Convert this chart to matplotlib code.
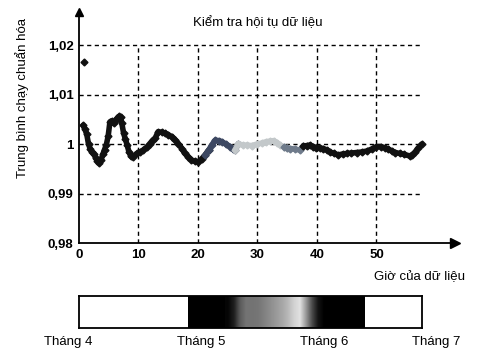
import numpy as np
import matplotlib
matplotlib.use("Agg")
import matplotlib.pyplot as plt

plt.rcParams['font.family'] = ['Liberation Sans', 'DejaVu Sans']

# running mean readings (hour, normalised value)
outlier_hour = 0.9
outlier_value = 1.0166

hours = [0.7, 1.0, 1.3, 1.6, 1.9, 2.2, 2.5, 2.8, 3.1, 3.4, 3.7, 4.0, 4.3, 4.6, 4.9,
         5.2, 5.5, 5.8, 6.1, 6.4, 6.7, 7.0, 7.2, 7.5, 7.8, 8.1, 8.4, 8.7, 9.0,
         9.7, 10.3, 10.8, 11.4, 11.9, 12.4, 12.8, 13.3, 13.9, 14.5, 15.0, 15.6,
         16.2, 16.7, 17.3, 17.8, 18.4, 18.9, 19.5, 20.0, 20.6, 21.2,
         21.8, 22.3, 22.9, 23.5, 24.0, 24.7, 25.4, 25.9, 26.2,
         26.8, 27.5, 28.2, 29.0, 29.9, 30.7, 31.5, 32.1, 32.7, 33.3, 33.8, 34.5,
         35.0, 35.5, 36.3, 37.1, 37.7,
         38.3, 38.8, 39.4, 39.9, 40.5, 41.1, 41.7, 42.2, 42.9, 43.6, 44.3, 45.0,
         45.8, 46.7, 47.5, 48.4, 49.2, 50.0, 50.7, 51.4, 52.0, 52.6, 53.2, 53.9,
         54.7, 55.6, 56.0, 56.5, 57.0, 57.6]
values = [1.0038, 1.0030, 1.0020, 1.0000, 0.9990, 0.9984, 0.9980, 0.9972, 0.9966,
          0.9962, 0.9968, 0.9979, 0.9989, 0.9999, 1.0016,
          1.0045, 1.0047, 1.0042, 1.0046, 1.0052, 1.0056, 1.0055, 1.0042, 1.0022,
          1.0010, 0.9998, 0.9984, 0.9976, 0.9973,
          0.9981, 0.9984, 0.9988, 0.9994, 1.0001, 1.0008, 1.0012, 1.0025, 1.0024,
          1.0022, 1.0019, 1.0015, 1.0008, 1.0001, 0.9991, 0.9981, 0.9974, 0.9968,
          0.9965, 0.9964, 0.9970, 0.9978,
          0.9988, 0.9998, 1.0008, 1.0007, 1.0005, 1.0000, 0.9995, 0.9990, 0.9988,
          1.0001, 0.9998, 0.9998, 0.9997, 1.0000, 1.0002, 1.0005, 1.0006, 1.0007,
          1.0003, 0.9998, 0.9994,
          0.9992, 0.9991, 0.9990, 0.9988, 0.9996,
          0.9997, 0.9998, 0.9995, 0.9993, 0.9992, 0.9991, 0.9988, 0.9984, 0.9981,
          0.9978, 0.9980, 0.9981,
          0.9982, 0.9983, 0.9984, 0.9986, 0.9990, 0.9995, 0.9995, 0.9993, 0.9990,
          0.9986, 0.9983, 0.9981,
          0.9979, 0.9976, 0.9978, 0.9984, 0.9992, 1.0000]

# colour bands along the trace (start hour of each band)
band_starts = [0.0, 21.2, 26.2, 34.5, 37.3]
band_colors = ["#111111", "#3d4862", "#c3c8ca", "#6f7b8b", "#111111"]

# sky strip: white / dark / white months, grey part read per hour
strip_edges = [0.0, 18.3, 48.1, 57.6]
grey_hours = [25, 26, 27, 28, 29, 30, 31, 32, 33, 34, 35, 36, 37, 38, 39, 40, 41]
grey_levels = [0.02, 0.12, 0.35, 0.45, 0.45, 0.46, 0.5, 0.55, 0.6, 0.65, 0.72,
               0.82, 0.88, 0.6, 0.3, 0.08, 0.0]
month_labels = ["Tháng 4", "Tháng 5", "Tháng 6", "Tháng 7"]
month_pos = [-1.8, 20.5, 41.2, 60.0]

x_ticks = [0, 10, 20, 30, 40, 50]
y_ticks = [0.98, 0.99, 1.00, 1.01, 1.02]
y_tick_labels = ["0,98", "0,99", "1", "1,01", "1,02"]

fig = plt.figure(figsize=(4.82, 3.62), dpi=100)
ax = fig.add_axes([0.1639, 0.3287, 0.780, 0.638])
x_end = 63.2
y_end = 1.0267
grid_x = 57.6
ax.set_xlim(0, x_end)
ax.set_ylim(0.98, y_end)

# dashed grid, only inside the data area
for yt in y_ticks[1:]:
    ax.plot([0, grid_x], [yt, yt], color="black", ls=(0, (3, 2.5)), lw=1.0, zorder=1)
for xt in x_ticks[1:]:
    ax.plot([xt, xt], [0.98, 1.02], color="black", ls=(0, (3, 2.5)), lw=1.0, zorder=1)

h = np.array(hours)
v = np.array(values)
for i, start in enumerate(band_starts):
    stop = band_starts[i + 1] if i + 1 < len(band_starts) else 100
    m = (h >= start - 0.01) & (h <= stop + 0.6)
    ax.plot(h[m], v[m], color=band_colors[i], lw=4, marker="D", ms=3.5,
            solid_capstyle="round", zorder=3)
ax.plot([outlier_hour], [outlier_value], "D", color="#111111", ms=3.5, zorder=3)

for s in ["top", "right"]:
    ax.spines[s].set_visible(False)
ax.spines["left"].set_linewidth(1.3)
ax.spines["bottom"].set_linewidth(1.3)
ax.plot([x_end], [0.98], marker=">", color="black", ms=7, clip_on=False, zorder=4)
ax.plot([0], [y_end], marker="^", color="black", ms=6, clip_on=False, zorder=4)

ax.set_xticks(x_ticks)
ax.set_yticks(y_ticks)
ax.set_yticklabels(y_tick_labels)
ax.tick_params(length=0, labelsize=9.5, pad=4)
for lab in ax.get_xticklabels() + ax.get_yticklabels():
    lab.set_fontweight("bold")

fig.text(0.535, 0.937, "Kiểm tra hội tụ dữ liệu", ha="center", va="center", fontsize=9.5)
fig.text(0.965, 0.235, "Giờ của dữ liệu", ha="right", va="center", fontsize=9.5)
fig.text(0.045, 0.73, "Trung bình chạy chuẩn hóa", rotation=90,
         ha="center", va="center", fontsize=9.5)

# strip below
sx = fig.add_axes([0.1639, 0.0939, 0.7116, 0.0884])
sx.set_xlim(strip_edges[0], strip_edges[-1])
sx.set_ylim(0, 1)
sx.axvspan(strip_edges[1], strip_edges[2], color="black", lw=0)
grad = np.array([grey_levels])
sx.imshow(grad, cmap="gray", vmin=0, vmax=1, aspect="auto", interpolation="bilinear",
          extent=[grey_hours[0] - 0.5, grey_hours[-1] + 0.5, 0, 1], zorder=2)
sx.set_xlim(strip_edges[0], strip_edges[-1])
sx.set_ylim(0, 1)
sx.set_xticks([])
sx.set_yticks([])
for s in sx.spines.values():
    s.set_linewidth(1.3)
for lab, p in zip(month_labels, month_pos):
    sx.text(p, -0.45, lab, ha="center", va="center", fontsize=9.5, clip_on=False)

fig.savefig("out.png", dpi=100)
